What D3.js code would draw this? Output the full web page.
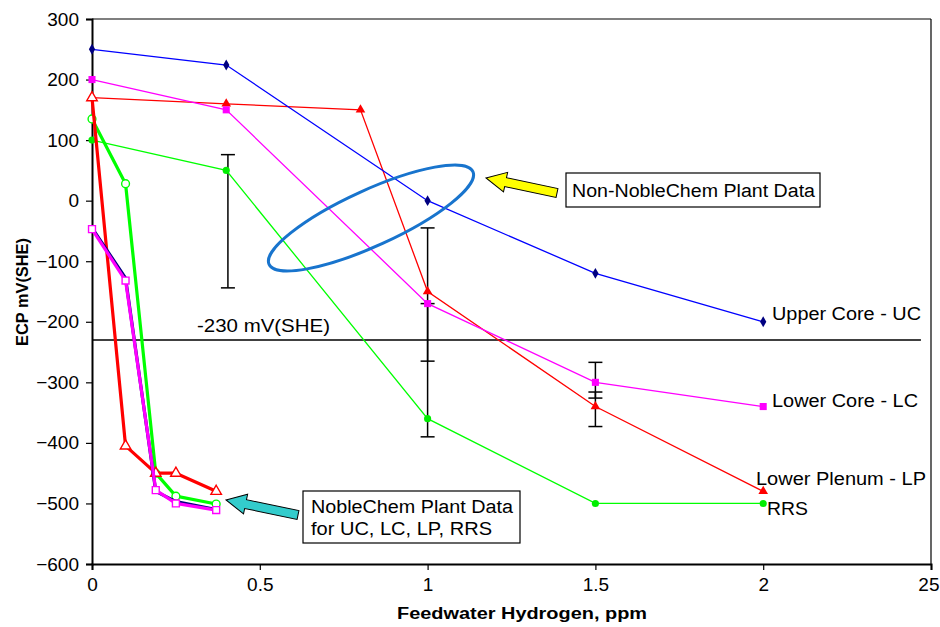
<!DOCTYPE html>
<html>
<head>
<meta charset="utf-8">
<script src="https://cdn.jsdelivr.net/npm/d3@7"></script>
<style>
  body { margin: 0; background: #fff; }
  svg { font-family: "Liberation Sans", Arial, sans-serif; }
</style>
</head>
<body>
<div id="chart"></div>
<script>
// data
var xTicks = [0, 0.5, 1, 1.5, 2, 2.5];
var xTickLabels = ["0", "0.5", "1", "1.5", "2", "25"];
var yTicks = [300, 200, 100, 0, -100, -200, -300, -400, -500, -600];

// non-NobleChem plant data (thin lines)
var ucX = [0, 0.4, 1, 1.5, 2];
var ucY = [250, 224, 0, -120, -200];
var lcX = [0, 0.4, 1, 1.5, 2];
var lcY = [200, 150, -170, -300, -340];
var lpX = [0, 0.4, 0.8, 1, 1.5, 2];
var lpY = [170, 160, 150, -150, -340, -480];
var rrsX = [0, 0.4, 1, 1.5, 2];
var rrsY = [100, 50, -360, -500, -500];

// NobleChem plant data (thick lines, open markers)
var ncX = [0, 0.1, 0.19, 0.25, 0.37];
var ncUcY = [-45, -128, -480, -497, -510];
var ncLcY = [-47, -132, -478, -500, -511];
var ncLpY = [170, -405, -450, -450, -480];
var ncRrsY = [135, 28, -450, -488, -501];

// error bars
var errX = [0.405, 1, 1, 1.5, 1.5];
var errHi = [76, -45, -170, -267, -316];
var errLo = [-144, -390, -265, -373, -326];

var refLine = -230;

var svgWidth = 940, svgHeight = 627;
var margin = { top: 19, right: 9, bottom: 63, left: 92 };
var width = svgWidth - margin.left - margin.right;
var height = svgHeight - margin.top - margin.bottom;

var svg = d3.select("#chart").append("svg")
  .attr("width", svgWidth)
  .attr("height", svgHeight);

var chartGroup = svg.append("g")
  .attr("transform", `translate(${margin.left}, ${margin.top})`);

var xScale = d3.scaleLinear().domain([0, 2.5]).range([0, width]);
var yScale = d3.scaleLinear().domain([-600, 300]).range([height, 0]);

// frame
chartGroup.append("line")
  .attr("x1", 0).attr("x2", width).attr("y1", 0).attr("y2", 0)
  .attr("stroke", "#000").attr("stroke-width", 1.2);
chartGroup.append("line")
  .attr("x1", width).attr("x2", width).attr("y1", 0).attr("y2", height)
  .attr("stroke", "#000").attr("stroke-width", 1.2);

// axes
var xAxis = d3.axisBottom(xScale).tickValues(xTicks)
  .tickFormat((d, i) => xTickLabels[i]).tickSize(6).tickPadding(8);
var yAxis = d3.axisLeft(yScale).tickValues(yTicks).tickSize(6).tickPadding(7);

var gx = chartGroup.append("g")
  .attr("transform", `translate(0, ${height})`)
  .call(xAxis);
var gy = chartGroup.append("g").call(yAxis);

[gx, gy].forEach(function (g) {
  g.select(".domain").attr("stroke", "#000").attr("stroke-width", 2);
  g.selectAll(".tick line").attr("stroke", "#000").attr("stroke-width", 1.2);
  g.selectAll(".tick text").attr("font-size", "19px").attr("fill", "#000")
    .attr("font-family", "Liberation Sans, Arial, sans-serif");
});
// last x label sits right at the page edge, pull it in a bit
gx.selectAll(".tick text").filter((d, i) => i === xTicks.length - 1)
  .attr("text-anchor", "end").attr("dx", 8);

// helper for the slightly wide text of the original
function label(x, y, txt, len, size, weight) {
  return svg.append("text")
    .attr("x", x).attr("y", y)
    .attr("font-size", (size || 18) + "px")
    .attr("font-weight", weight || "normal")
    .attr("textLength", len)
    .attr("lengthAdjust", "spacingAndGlyphs")
    .text(txt);
}

// axis titles
label(397, 619, "Feedwater Hydrogen, ppm", 250, 16, "bold");

svg.append("text")
  .attr("transform", "rotate(-90)")
  .attr("x", -292)
  .attr("y", 28)
  .attr("text-anchor", "middle")
  .attr("font-size", "16px")
  .attr("font-weight", "bold")
  .attr("textLength", 108)
  .attr("lengthAdjust", "spacingAndGlyphs")
  .text("ECP mV(SHE)");

// -230 reference line
chartGroup.append("line")
  .attr("x1", xScale(0)).attr("x2", xScale(2.47))
  .attr("y1", yScale(refLine)).attr("y2", yScale(refLine))
  .attr("stroke", "#000").attr("stroke-width", 1.5);
label(197, margin.top + yScale(refLine) - 8, "-230 mV(SHE)", 133);

var line = d3.line()
  .x(d => xScale(d[0]))
  .y(d => yScale(d[1]));

function zip(xs, ys) {
  return xs.map((x, i) => [x, ys[i]]);
}

// error bars
errX.forEach(function (x, i) {
  var g = chartGroup.append("g").attr("stroke", "#000").attr("stroke-width", 1.5);
  g.append("line")
    .attr("x1", xScale(x)).attr("x2", xScale(x))
    .attr("y1", yScale(errHi[i])).attr("y2", yScale(errLo[i]));
  [errHi[i], errLo[i]].forEach(function (v) {
    g.append("line")
      .attr("x1", xScale(x) - 7).attr("x2", xScale(x) + 7)
      .attr("y1", yScale(v)).attr("y2", yScale(v));
  });
});

// thin series
var thinSeries = [
  { x: rrsX, y: rrsY, color: "#00ff00", mark: "circle", markColor: "#00ee00" },
  { x: lpX, y: lpY, color: "#ff0000", mark: "triangle", markColor: "#ff0000" },
  { x: lcX, y: lcY, color: "#ff00ff", mark: "square", markColor: "#ff00ff" },
  { x: ucX, y: ucY, color: "#0000ff", mark: "diamond", markColor: "#000080" }
];

var symbolType = {
  circle: d3.symbolCircle,
  triangle: d3.symbolTriangle,
  square: d3.symbolSquare,
  diamond: d3.symbolDiamond
};
var symbolSize = { circle: 40, triangle: 40, square: 50, diamond: 34 };

thinSeries.forEach(function (s) {
  var pts = zip(s.x, s.y);
  chartGroup.append("path")
    .datum(pts)
    .attr("d", line)
    .attr("fill", "none")
    .attr("stroke", s.color)
    .attr("stroke-width", 1.3);
  chartGroup.selectAll(null)
    .data(pts)
    .enter()
    .append("path")
    .attr("d", d3.symbol().type(symbolType[s.mark]).size(symbolSize[s.mark]))
    .attr("transform", d => `translate(${xScale(d[0])}, ${yScale(d[1])})`)
    .attr("fill", s.markColor);
});

// NobleChem thick series
var thickSeries = [
  { y: ncRrsY, color: "#00ff00", mark: "circle" },
  { y: ncLpY, color: "#ff0000", mark: "triangle" },
  { y: ncUcY, color: "#000080", mark: null },
  { y: ncLcY, color: "#ff00ff", mark: "square" }
];

thickSeries.forEach(function (s) {
  var pts = zip(ncX, s.y);
  chartGroup.append("path")
    .datum(pts)
    .attr("d", line)
    .attr("fill", "none")
    .attr("stroke", s.color)
    .attr("stroke-width", 3.2)
    .attr("stroke-linejoin", "round");
  if (s.mark) {
    chartGroup.selectAll(null)
      .data(pts)
      .enter()
      .append("path")
      .attr("d", d3.symbol().type(symbolType[s.mark]).size(48))
      .attr("transform", d => `translate(${xScale(d[0])}, ${yScale(d[1])})`)
      .attr("fill", "#fff")
      .attr("stroke", s.color)
      .attr("stroke-width", 1.4);
  }
});

// end labels
label(772, 320, "Upper Core - UC", 149);
label(772, 407, "Lower Core - LC", 146);
label(756, 485, "Lower Plenum - LP", 170);
label(767, 515, "RRS", 41);

// ellipse around non-NobleChem data
svg.append("ellipse")
  .attr("cx", 371).attr("cy", 218)
  .attr("rx", 112).attr("ry", 28)
  .attr("transform", "rotate(-24.5, 371, 218)")
  .attr("fill", "none")
  .attr("stroke", "#1874cd")
  .attr("stroke-width", 3);

// block arrows
function blockArrow(tip, tail, headLen, headW, shaftW, fill) {
  var dx = tail[0] - tip[0], dy = tail[1] - tip[1];
  var len = Math.sqrt(dx * dx + dy * dy);
  var ang = Math.atan2(dy, dx) * 180 / Math.PI;
  var pts = [
    [0, 0], [headLen, -headW / 2], [headLen, -shaftW / 2], [len, -shaftW / 2],
    [len, shaftW / 2], [headLen, shaftW / 2], [headLen, headW / 2]
  ];
  svg.append("polygon")
    .attr("points", pts.map(p => p.join(",")).join(" "))
    .attr("transform", `translate(${tip[0]}, ${tip[1]}) rotate(${ang})`)
    .attr("fill", fill)
    .attr("stroke", "#000")
    .attr("stroke-width", 1);
}
blockArrow([486, 178], [557, 193], 20, 20, 9, "#ffff00");
blockArrow([226, 500], [298, 515], 20, 20, 9, "#33cccc");

// text boxes
svg.append("rect")
  .attr("x", 566).attr("y", 173).attr("width", 254).attr("height", 34)
  .attr("fill", "#fff").attr("stroke", "#000").attr("stroke-width", 1.2);
label(572, 197, "Non-NobleChem Plant Data", 243);

svg.append("rect")
  .attr("x", 303).attr("y", 491).attr("width", 217).attr("height", 52)
  .attr("fill", "#fff").attr("stroke", "#000").attr("stroke-width", 1.2);
label(311, 513, "NobleChem Plant Data", 202);
label(311, 535, "for UC, LC, LP, RRS", 181);
</script>
</body>
</html>
